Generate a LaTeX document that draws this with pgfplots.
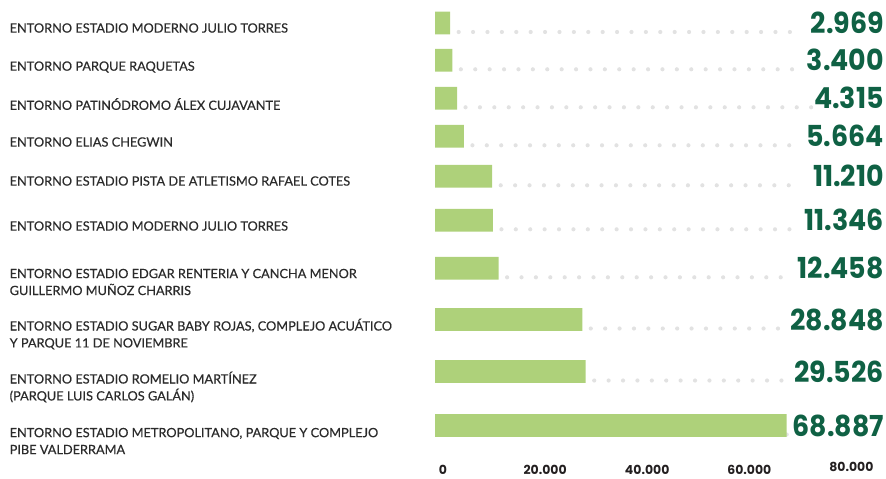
\documentclass[border=0pt]{standalone}
\usepackage{pgfplots}
\pgfplotsset{compat=1.18}
\usepackage{pgfplotstable}
\usepackage{fontspec}
\setmainfont{Lato}[FakeBold=0.5]
\newfontfamily\numfont{Poppins}
\newfontfamily\valfont{Poppins}[FakeStretch=0.93]
\definecolor{barGreen}{HTML}{AED17A}
\definecolor{valGreen}{HTML}{0F6144}
\definecolor{labGray}{HTML}{2B2B2B}
\definecolor{dotGray}{HTML}{E2E2E2}
\definecolor{tickGray}{HTML}{231F20}

% y = vertical position of bar centre (px from top), v = value
\pgfplotstableread{
y      v      xr     lab     ds     de
23     2969   87953  2.969   4634   72087
60.3   3400   87953  3.400   5065   72087
98.3   4315   87953  4.315   5980   74829
136.3  5664   87953  5.664   7329   72087
176.3  11210  87953  11.210  12875  72087
220.3  11346  87953  11.346  13011  71107
268.3  12458  87953  12.458  14123  69736
319.5  28848  87953  28.848  30513  69540
371.5  29526  87953  29.526  31191  69148
425.5  68887  87953  68.887  68887  68887
}\data

\begin{document}
\begin{tikzpicture}
\begin{axis}[
  scale only axis,
  width=886bp, height=478bp,
  xmin=-85211, xmax=88345,
  ymin=0, ymax=478,
  y dir=reverse,
  clip=false,
  scaled x ticks=false,
  axis line style={draw=none},
  tick style={draw=none},
  major tick length=0pt,
  xtick={0,20000,40000,60000,80000},
  xticklabels={0,20.000,40.000,60.000,{\raisebox{3bp}{80.000}}},
  xticklabel style={font=\numfont\bfseries\fontsize{12.5}{14}\selectfont, text=tickGray, anchor=base, xshift=8bp, yshift=3.5bp, inner sep=0pt},
  ytick={28,67,104,142,181,226,282,334,387,441},
  yticklabels={
    {ENTORNO ESTADIO MODERNO JULIO TORRES},
    {ENTORNO PARQUE RAQUETAS},
    {ENTORNO PATINÓDROMO ÁLEX CUJAVANTE},
    {ENTORNO ELIAS CHEGWIN},
    {ENTORNO ESTADIO PISTA DE ATLETISMO RAFAEL COTES},
    {ENTORNO ESTADIO MODERNO JULIO TORRES},
    {ENTORNO ESTADIO EDGAR RENTERIA Y CANCHA MENOR\\GUILLERMO MUÑOZ CHARRIS},
    {ENTORNO ESTADIO SUGAR BABY ROJAS, COMPLEJO ACUÁTICO\\Y PARQUE 11 DE NOVIEMBRE},
    {ENTORNO ESTADIO ROMELIO MARTÍNEZ\\(PARQUE LUIS CARLOS GALÁN)},
    {ENTORNO ESTADIO METROPOLITANO, PARQUE Y COMPLEJO\\PIBE VALDERRAMA}},
  yticklabel style={font=\fontsize{12.8}{17}\selectfont, text=labGray, anchor=west, align=left, xshift=9.5bp, inner sep=0pt},
]
% dotted leaders (drawn as one-sided error bars from start to end)
\addplot[draw=none, mark=none,
  error bars/.cd, x dir=plus, x explicit,
  error mark=none,
  error bar style={dotGray, line width=4.2bp, line cap=round, dash pattern=on 0pt off 14.4bp}]
  table[x=ds, y expr=\thisrow{y}+9, x error expr=\thisrow{de}-\thisrow{ds}] {\data};
% bars
\addplot[xbar, fill=barGreen, draw=none, bar width=22.7bp] table[x=v, y=y] {\data};
% value labels
\addplot[draw=none, mark=none, nodes near coords, point meta=explicit symbolic,
  nodes near coords style={anchor=east, inner sep=0pt, text=valGreen, font=\valfont\bfseries\fontsize{29}{30}\selectfont}]
  table[x=xr, y=y, meta=lab] {\data};
\end{axis}
\end{tikzpicture}
\end{document}
